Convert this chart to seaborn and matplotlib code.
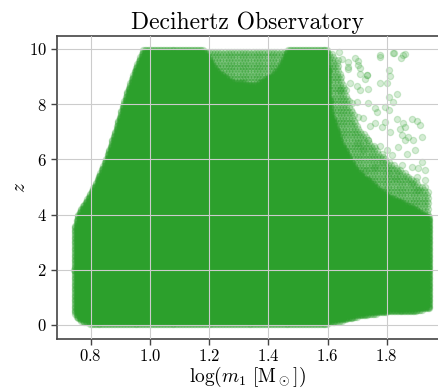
import numpy as np
import pandas as pd
import matplotlib
matplotlib.use("Agg")
import matplotlib.pyplot as plt
import seaborn as sns

# ---- boundaries of the solid point cloud ----
left_z = [0.05, 0.3, 2.0, 3.5, 4.0, 5.0, 6.0, 7.0, 8.0, 9.0, 9.95]
left_x = [0.78, 0.748, 0.743, 0.745, 0.757, 0.81, 0.852, 0.882, 0.909, 0.94, 0.977]

solid_top_x = [0.74, 1.18, 1.22, 1.28, 1.36, 1.43, 1.47, 1.6, 1.61, 1.65, 1.7, 1.8, 1.9, 1.945]
solid_top_z = [10.0, 10.0, 9.3, 8.8, 8.7, 9.2, 10.0, 10.0, 7.8, 6.5, 5.6, 4.7, 4.2, 3.9]

mid_top_x = [0.74, 1.6, 1.63, 1.66, 1.7, 1.8, 1.9, 1.945]
mid_top_z = [10.0, 10.0, 9.6, 8.6, 7.2, 6.0, 5.2, 4.8]

bottom_x = [0.742, 0.76, 0.8, 1.6, 1.65, 1.7, 1.8, 1.9, 1.945]
bottom_z = [0.5, 0.15, 0.03, 0.05, 0.15, 0.3, 0.45, 0.5, 0.6]

x_max = 1.945

# ---- sparse outlying points ----
sparse_x = [1.637, 1.777, 1.823, 1.860, 1.848, 1.693, 1.704, 1.648, 1.670, 1.702,
            1.670, 1.806, 1.811, 1.710, 1.732, 1.727, 1.777, 1.800, 1.676, 1.699,
            1.710, 1.738, 1.642, 1.834, 1.806, 1.822, 1.699, 1.682, 1.738, 1.761,
            1.794, 1.806, 1.766, 1.721, 1.704, 1.834, 1.884, 1.901, 1.856, 1.913,
            1.794, 1.761, 1.783, 1.744, 1.845, 1.862, 1.811, 1.851, 1.873, 1.890,
            1.918, 1.862, 1.839, 1.896, 1.868, 1.800, 1.817, 1.738, 1.704, 1.777,
            1.721, 1.929, 1.907, 1.884, 1.918, 1.851, 1.839, 1.901, 1.873, 1.929,
            1.929, 1.907, 1.884, 1.828, 1.783, 1.761, 1.727, 1.806,
            1.636, 1.669, 1.710, 1.733, 1.777, 1.821, 1.855]
sparse_z = [9.90, 9.78, 9.87, 9.82, 9.66, 9.66, 9.42, 9.63, 9.54, 9.57,
            9.26, 9.24, 9.02, 9.09, 9.06, 8.90, 8.76, 8.78, 8.76, 8.64,
            8.51, 8.54, 8.51, 8.37, 8.25, 8.06, 8.09, 8.03, 8.03, 7.85,
            7.91, 7.79, 7.73, 7.49, 7.55, 7.45, 7.45, 7.40, 7.31, 7.25,
            7.37, 7.31, 7.16, 7.21, 7.09, 7.16, 7.00, 6.88, 6.82, 6.70,
            6.82, 6.70, 6.46, 6.34, 6.20, 6.34, 6.16, 6.70, 6.58, 6.49,
            6.34, 5.62, 5.68, 5.74, 5.92, 5.80, 5.56, 5.37, 5.37, 5.25,
            5.01, 4.89, 5.13, 5.31, 5.92, 5.74, 5.56, 5.50,
            9.60, 9.35, 9.30, 9.06, 9.71, 9.86, 9.78]

title = "Decihertz Observatory"
xlabel = r"$\log(m_1\ [\mathrm{M}_\odot])$"
ylabel = r"$z$"
color = "#2ca02c"

# ---- fill the read boundaries with a lattice of points ----
gx, gz = np.meshgrid(np.arange(0.743, x_max, 0.005), np.arange(0.0, 10.0, 0.05))
gx, gz = gx.ravel(), gz.ravel()
inside = (gx >= np.interp(gz, left_z, left_x)) & (gz >= np.interp(gx, bottom_x, bottom_z))
solid = inside & (gz <= np.interp(gx, solid_top_x, solid_top_z))

hx, hz = np.meshgrid(np.arange(0.743, x_max, 0.0105), np.arange(0.0, 10.0, 0.1))
rowshift = (np.arange(hz.shape[0]) % 2)[:, None] * 0.00525
hx = (hx + rowshift).ravel()
hz = hz.ravel()
hin = (hx >= np.interp(hz, left_z, left_x)) & (hx <= x_max)
semi = hin & (hz > np.interp(hx, solid_top_x, solid_top_z)) & (hz <= np.interp(hx, mid_top_x, mid_top_z))

df = pd.DataFrame({
    "x": np.concatenate([gx[solid], hx[semi], sparse_x]),
    "z": np.concatenate([gz[solid], hz[semi], sparse_z]),
})

sns.set_theme(style="whitegrid")
plt.rcParams.update({
    "font.family": ["cmr10"],
    "mathtext.fontset": "cm",
    "axes.formatter.use_mathtext": True,
    "axes.unicode_minus": False,
})

fig = plt.figure(figsize=(4.38, 3.89), dpi=100)
ax = fig.add_axes([0.129, 0.1293, 0.871, 0.7789])
sns.scatterplot(data=df, x="x", y="z", ax=ax, color=color, alpha=0.2,
                s=20, edgecolor=color, linewidth=0.9, legend=False)

ax.set_xlim(0.6845, 1.973)
ax.set_ylim(-0.5, 10.48)
ax.set_xticks([0.8, 1.0, 1.2, 1.4, 1.6, 1.8])
ax.set_yticks([0, 2, 4, 6, 8, 10])
ax.set_axisbelow(False)
ax.grid(True, color="#cccccc", linewidth=0.8)
for side in ["left", "bottom", "top"]:
    ax.spines[side].set_color("#444444")
    ax.spines[side].set_linewidth(1.2)
ax.spines["right"].set_visible(False)
ax.tick_params(axis="both", length=4, width=1, color="#444444", direction="out",
               left=True, bottom=True, labelsize=12, labelcolor="black", pad=3)
ax.set_title(title, fontsize=17, pad=5, color="black")
ax.set_xlabel(xlabel, fontsize=14, color="black", labelpad=0)
ax.set_ylabel(ylabel, fontsize=14, color="black", labelpad=0)

fig.savefig("out.png", dpi=100)
